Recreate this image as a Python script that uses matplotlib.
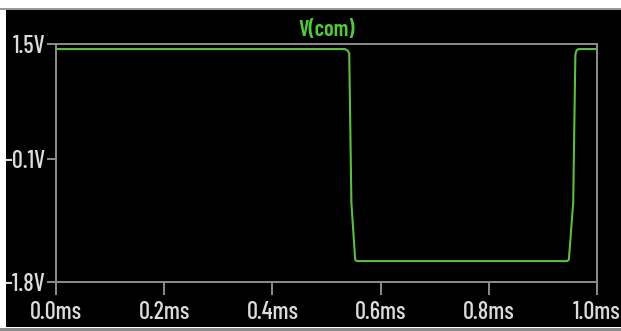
import matplotlib
matplotlib.use('Agg')
import matplotlib.pyplot as plt
from matplotlib.patches import Rectangle

plt.rcParams['font.family'] = ['Barlow Condensed', 'DejaVu Sans']

# V(com) transient: high level, falling edge near 0.54 ms, rising edge near 0.95 ms
time_ms = [0.0, 0.534, 0.539, 0.542, 0.546, 0.553, 0.556,
           0.945, 0.948, 0.956, 0.960, 0.962, 0.966, 1.0]
v_com = [1.43, 1.43, 1.41, 1.37, -0.70, -1.49, -1.51,
         -1.51, -1.49, -0.70, 1.35, 1.41, 1.43, 1.43]

x_ticks = [0.0, 0.2, 0.4, 0.6, 0.8, 1.0]
x_labels = ['0.0ms', '0.2ms', '0.4ms', '0.6ms', '0.8ms', '1.0ms']
y_ticks = [1.5, -0.1, -1.8]
y_labels = ['1.5V', '-0.1V', '-1.8V']

W, H = 621, 331
fig = plt.figure(figsize=(W / 100, H / 100), dpi=100, facecolor='white')

# black screen area of the waveform viewer
fig.patches.append(Rectangle((6 / W, 4 / H), 1 - 6 / W, (H - 14) / H,
                             transform=fig.transFigure, facecolor='black',
                             edgecolor='none', zorder=-10))
fig.patches.append(Rectangle((0, (H - 10) / H), 1, 2 / H,
                             transform=fig.transFigure, facecolor='#9a9a9a',
                             edgecolor='none', zorder=-10))
fig.patches.append(Rectangle((0, 0), 1, 3 / H,
                             transform=fig.transFigure, facecolor='#8a8a8a',
                             edgecolor='none', zorder=-10))

left, right, top, bottom = 56, 597, 44, 282
ax = fig.add_axes([left / W, (H - bottom) / H, (right - left) / W, (bottom - top) / H])
ax.set_zorder(5)
ax.set_facecolor('black')

green = '#5cbd45'
ax.plot(time_ms, v_com, color=green, linewidth=1.5, clip_on=False)

ax.set_xlim(0, 1.0)
ax.set_ylim(-1.8, 1.5)
ax.set_xticks(x_ticks)
ax.set_xticklabels(x_labels)
ax.set_yticks(y_ticks)
ax.set_yticklabels(y_labels)

frame = '#8c8c8c'
for s in ax.spines.values():
    s.set_color(frame)
    s.set_linewidth(1.4)

ax.tick_params(axis='x', colors=frame, length=9.5, width=1.4, pad=4,
               labelcolor='#dcdcdc', labelsize=17.5)
ax.tick_params(axis='y', colors=frame, length=6.5, width=1.4, pad=1,
               labelcolor='#dcdcdc', labelsize=17.5)
for lab in ax.get_xticklabels() + ax.get_yticklabels():
    lab.set_fontweight('medium')

ax.set_title('V(com)', color='#52c83c', fontsize=16, fontweight='semibold', pad=6)

plt.savefig('out.png', dpi=100, facecolor='white')
